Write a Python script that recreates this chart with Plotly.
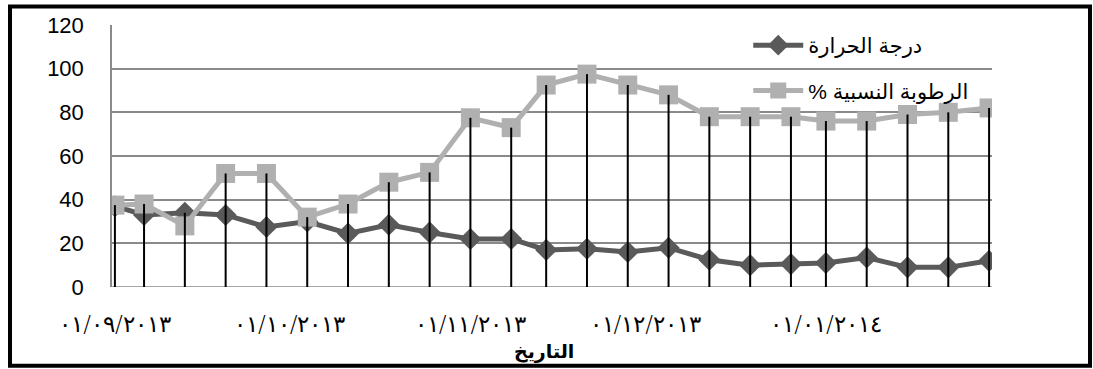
import plotly.graph_objects as go

# Weekly readings
dates = ['2013-09-01', '2013-09-06', '2013-09-13', '2013-09-20', '2013-09-27',
         '2013-10-04', '2013-10-11', '2013-10-18', '2013-10-25', '2013-11-01',
         '2013-11-08', '2013-11-14', '2013-11-21', '2013-11-28', '2013-12-05',
         '2013-12-12', '2013-12-19', '2013-12-26', '2014-01-01', '2014-01-08',
         '2014-01-15', '2014-01-22', '2014-01-29']
temperature = [37, 33, 34, 33, 27.5, 30, 24.5, 28.5, 25, 22, 22, 17, 17.5, 16, 18,
               12.5, 10, 10.5, 11, 13.5, 9, 9, 12]
humidity = [37.5, 38, 28, 52, 52, 32, 38, 48, 52.5, 77.5, 73, 92.5, 97.5, 92.5, 88,
            78, 78, 78, 76, 76, 79, 80, 82]

tick_dates = ['2013-09-01', '2013-10-01', '2013-11-01', '2013-12-01', '2014-01-01']
tick_labels = ['٠١/٠٩/٢٠١٣', '٠١/١٠/٢٠١٣', '٠١/١١/٢٠١٣', '٠١/١٢/٢٠١٣', '٠١/٠١/٢٠١٤']

name_temp = 'درجة الحرارة'
name_hum = 'الرطوبة النسبية %'
x_title = 'التاريخ'

RLM = '\u200f'  # keeps the trailing % inside the right-to-left run

DARK = '#5a5a5a'
LIGHT = '#b0b0b0'

# drop lines from the higher of the two series down to zero
drop_x, drop_y = [], []
for d, t, h in zip(dates, temperature, humidity):
    drop_x += [d, d, None]
    drop_y += [0, max(t, h), None]

fig = go.Figure()
fig.add_trace(go.Scatter(
    x=dates, y=temperature, name=name_temp, mode='lines+markers',
    line=dict(color=DARK, width=5),
    marker=dict(symbol='diamond', size=17, color=DARK),
    legendgroup='t', legendrank=1))
fig.add_trace(go.Scatter(
    x=dates, y=humidity, name=name_hum + RLM, mode='lines+markers',
    line=dict(color=LIGHT, width=5),
    marker=dict(symbol='square', size=19, color=LIGHT),
    legendgroup='h', legendrank=2))
fig.add_trace(go.Scatter(
    x=drop_x, y=drop_y, mode='lines', showlegend=False, hoverinfo='skip',
    line=dict(color='black', width=2)))

fig.update_layout(
    width=1093, height=369,
    margin=dict(l=112, r=101, t=25, b=82),
    paper_bgcolor='white', plot_bgcolor='white',
    font=dict(family='Liberation Sans, DejaVu Sans, sans-serif', color='black'),
    showlegend=True,
    legend=dict(x=0.723, y=1.0, xanchor='left', yanchor='top',
                bgcolor='rgba(0,0,0,0)', font=dict(size=21, color='black'),
                itemwidth=50, tracegroupgap=15),
    xaxis=dict(type='date',
               range=['2013-08-31 12:00', '2014-01-29 12:00'],
               tickmode='array', tickvals=tick_dates, ticktext=tick_labels,
               tickfont=dict(size=23, family='DejaVu Sans, sans-serif', weight=300),
               showgrid=False, zeroline=False, showline=False,
               ticks='', ticklabelstandoff=21),
    yaxis=dict(range=[0, 120], tickmode='array', tickvals=[0, 20, 40, 60, 80, 100, 120],
               tickfont=dict(size=22), showgrid=True, gridcolor='#8a8a8a', gridwidth=1.5,
               zeroline=False, showline=True, linecolor='#8a8a8a', linewidth=1.5,
               ticks='', ticklabelstandoff=22),
    annotations=[dict(text='<b>' + x_title + '</b>', xref='paper', yref='paper',
                      x=0.491, y=-0.248, xanchor='center', yanchor='middle',
                      showarrow=False, font=dict(size=19, color='black'))],
    # outer frame, placed in pixels from the plot's left edge
    shapes=[dict(type='rect', xref='paper', yref='paper',
                 xsizemode='pixel', xanchor=0, x0=-102, x1=978,
                 y0=-0.301, y1=1.071,
                 line=dict(color='black', width=4), layer='above')],
)

# x-axis baseline at zero
fig.add_shape(type='line', xref='paper', yref='y', x0=0, x1=1, y0=0, y1=0,
              line=dict(color='#8a8a8a', width=1.5), layer='below')

fig.write_html('out.html')
